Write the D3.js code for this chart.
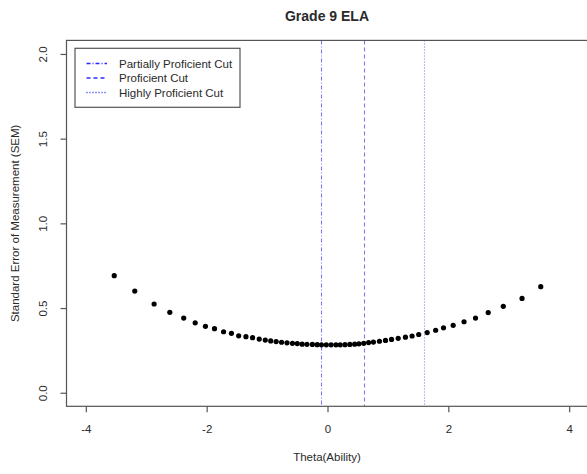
<!DOCTYPE html>
<html>
<head>
<meta charset="utf-8">
<script src="https://cdn.jsdelivr.net/npm/d3@7"></script>
<style>
  html, body { margin: 0; padding: 0; background: #fff; }
  svg { display: block; font-family: "Liberation Sans", Arial, sans-serif; }
</style>
</head>
<body>
<svg id="chart" width="587" height="474"></svg>
<script>
// ---- data ----
const theta = [-3.53, -3.19, -2.87, -2.61, -2.38, -2.19, -2.02, -1.87, -1.72, -1.59,
  -1.47, -1.35, -1.24, -1.13, -1.03, -0.94, -0.85, -0.76, -0.67, -0.58,
  -0.50, -0.42, -0.34, -0.25, -0.17, -0.10, -0.02, 0.06, 0.14, 0.21,
  0.29, 0.37, 0.45, 0.52, 0.60, 0.68, 0.76, 0.86, 0.96, 1.06,
  1.17, 1.29, 1.40, 1.51, 1.65, 1.79, 1.92, 2.08, 2.26, 2.45,
  2.66, 2.91, 3.22, 3.53];
const sem = [0.691, 0.600, 0.524, 0.475, 0.441, 0.413, 0.392, 0.378, 0.360, 0.351,
  0.336, 0.331, 0.325, 0.317, 0.311, 0.306, 0.302, 0.298, 0.295, 0.292,
  0.290, 0.287, 0.286, 0.285, 0.284, 0.283, 0.283, 0.283, 0.283, 0.283,
  0.284, 0.285, 0.287, 0.289, 0.292, 0.296, 0.299, 0.304, 0.309, 0.315,
  0.321, 0.328, 0.335, 0.344, 0.355, 0.369, 0.383, 0.398, 0.419, 0.441,
  0.473, 0.510, 0.557, 0.626];
const cutLabels = ["Partially Proficient Cut", "Proficient Cut", "Highly Proficient Cut"];
const cutValues = [-0.11, 0.60, 1.59];
const cutDashes = ["4,2,1,2", "4,3", "1,2"];
const xTicks = [-4, -2, 0, 2, 4];
const xTickLabels = ["-4", "-2", "0", "2", "4"];
const yTicks = [0, 0.5, 1.0, 1.5, 2.0];
const yTickLabels = ["0.0", "0.5", "1.0", "1.5", "2.0"];
const titleText = "Grade 9 ELA";
const xLabel = "Theta(Ability)";
const yLabel = "Standard Error of Measurement (SEM)";

// ---- layout ----
const svg = d3.select("#chart");
const x = d3.scaleLinear().domain([-4.32, 4.32]).range([66.5, 588.5]);
const y = d3.scaleLinear().domain([-0.08, 2.08]).range([406.3, 40.4]);
const axisColor = "#555";
const textColor = "#2a2a2a";

// title
svg.append("text")
  .attr("x", 327).attr("y", 20.5)
  .attr("text-anchor", "middle")
  .attr("font-weight", "bold")
  .attr("font-size", 14)
  .attr("fill", textColor)
  .text(titleText);

// cut lines
svg.append("g").selectAll("line")
  .data(cutValues)
  .join("line")
  .attr("x1", d => Math.round(x(d)) + 0.5).attr("x2", d => Math.round(x(d)) + 0.5)
  .attr("y1", y(2.08)).attr("y2", y(-0.08))
  .attr("stroke", "#7a7af2")
  .attr("stroke-width", 1.1)
  .attr("stroke-dasharray", (d, i) => cutDashes[i]);

// points
svg.append("g").selectAll("circle")
  .data(theta.map((t, i) => [t, sem[i]]))
  .join("circle")
  .attr("cx", d => x(d[0]))
  .attr("cy", d => y(d[1]))
  .attr("r", 2.6)
  .attr("fill", "#000");

// box
svg.append("rect")
  .attr("x", x(-4.32)).attr("y", y(2.08))
  .attr("width", x(4.32) - x(-4.32))
  .attr("height", y(-0.08) - y(2.08))
  .attr("fill", "none")
  .attr("stroke", axisColor)
  .attr("stroke-width", 1.2);

// x axis
const gx = svg.append("g")
  .attr("transform", `translate(0,${y(-0.08)})`)
  .call(d3.axisBottom(x).tickValues(xTicks).tickSize(6).tickPadding(13)
    .tickFormat((d, i) => xTickLabels[i]));
gx.select(".domain").remove();
gx.selectAll("line").attr("stroke", axisColor).attr("stroke-width", 1.2);
gx.selectAll("text").attr("font-size", 11.5).attr("fill", textColor).attr("font-family", "Liberation Sans, Arial, sans-serif");

// y axis
const gy = svg.append("g")
  .attr("transform", `translate(${x(-4.32)},0)`)
  .call(d3.axisLeft(y).tickValues(yTicks).tickSize(6).tickFormat((d, i) => yTickLabels[i]));
gy.select(".domain").remove();
gy.selectAll("line").attr("stroke", axisColor).attr("stroke-width", 1.2);
gy.selectAll("text")
  .attr("x", null).attr("dy", null)
  .attr("transform", "translate(-19.5,0) rotate(-90)")
  .attr("text-anchor", "middle")
  .attr("font-size", 11.5)
  .attr("fill", textColor)
  .attr("font-family", "Liberation Sans, Arial, sans-serif");

// axis titles
svg.append("text")
  .attr("x", 327).attr("y", 461)
  .attr("text-anchor", "middle")
  .attr("font-size", 11.5)
  .attr("fill", textColor)
  .text(xLabel);
svg.append("text")
  .attr("transform", `translate(19,${(y(2.08) + y(-0.08)) / 2}) rotate(-90)`)
  .attr("text-anchor", "middle")
  .attr("font-size", 11.5)
  .attr("fill", textColor)
  .text(yLabel);

// legend
const lg = svg.append("g");
lg.append("rect")
  .attr("x", 75).attr("y", 48.3)
  .attr("width", 165).attr("height", 59)
  .attr("fill", "#fff")
  .attr("stroke", axisColor)
  .attr("stroke-width", 1.2);
const rowY = [63.5, 78, 92.5];
cutLabels.forEach((lab, i) => {
  lg.append("line")
    .attr("x1", 86.5).attr("x2", 107)
    .attr("y1", rowY[i]).attr("y2", rowY[i])
    .attr("stroke", "#2b2bff")
    .attr("stroke-width", 1.6)
    .attr("stroke-dasharray", cutDashes[i]);
  lg.append("text")
    .attr("x", 119).attr("y", rowY[i])
    .attr("dy", "0.35em")
    .attr("font-size", 11.5)
    .attr("fill", textColor)
    .text(lab);
});
</script>
</body>
</html>
